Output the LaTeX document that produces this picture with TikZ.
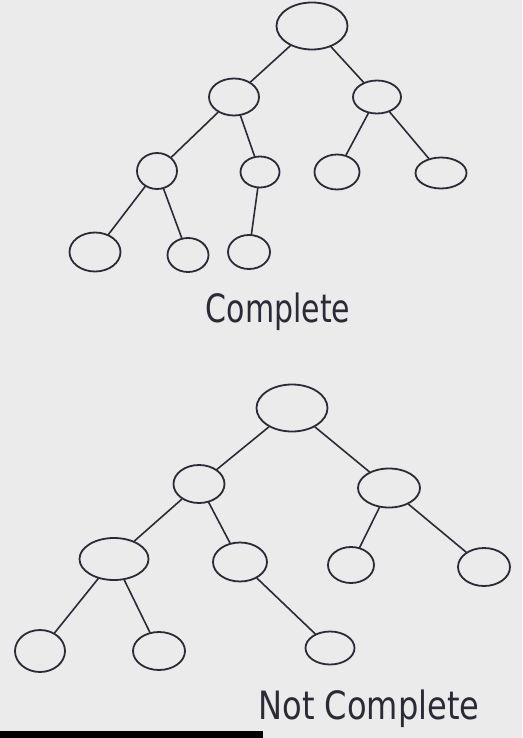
\documentclass[tikz,border=0pt]{standalone}
\usepackage{fontspec}
\setmainfont{DejaVu Sans}
\usetikzlibrary{shapes.geometric}
\definecolor{board}{HTML}{EBEBEB}
\definecolor{pen}{HTML}{2B2B38}

\begin{document}
\begin{tikzpicture}[x=1pt, y=-1pt,
            ring/.style = {draw=pen, ellipse, line width=1.8pt, inner sep=0pt},
            edge/.style = {draw=pen, line width=1.6pt, line cap=round},
            caption/.style = {text=pen, font=\fontsize{30}{36}\selectfont, yscale=1.3}]
            \fill[board] (0,0) rectangle (522,738);
            \useasboundingbox (0,0) rectangle (522,738);

            % complete tree
            \node[ring, minimum width=71pt, minimum height=47pt] (r) at (312,26) {};
            \node[ring, minimum width=50pt, minimum height=37pt] (a) at (234,97) {};
            \node[ring, minimum width=48pt, minimum height=33pt] (b) at (377,97) {};
            \node[ring, minimum width=40pt, minimum height=36pt] (aa) at (157,171) {};
            \node[ring, minimum width=39pt, minimum height=31pt] (ab) at (260,172) {};
            \node[ring, minimum width=45pt, minimum height=35pt] (ba) at (337,172) {};
            \node[ring, minimum width=51pt, minimum height=31pt] (bb) at (441,173) {};
            \node[ring, minimum width=51pt, minimum height=39pt] (aaa) at (95,252) {};
            \node[ring, minimum width=41pt, minimum height=34pt] (aab) at (188,255) {};
            \node[ring, minimum width=42pt, minimum height=34pt] (aba) at (249,252) {};

            \draw[edge] (r) -- (a);
            \draw[edge] (r) -- (b);
            \draw[edge] (a) -- (aa);
            \draw[edge] (a) -- (ab);
            \draw[edge] (b) -- (ba);
            \draw[edge] (b) -- (bb);
            \draw[edge] (aa) -- (aaa);
            \draw[edge] (aa) -- (aab);
            \draw[edge] (ab) -- (aba);

            \node[caption] (yes) at (278,312) {Complete};

            % not complete tree
            \node[ring, minimum width=71pt, minimum height=47pt] (nr) at (292,408) {};
            \node[ring, minimum width=51pt, minimum height=38pt] (na) at (199,484) {};
            \node[ring, minimum width=62pt, minimum height=39pt] (nb) at (389,488) {};
            \node[ring, minimum width=69pt, minimum height=42pt] (naa) at (114,559) {};
            \node[ring, minimum width=54pt, minimum height=39pt] (nab) at (240,562) {};
            \node[ring, minimum width=46pt, minimum height=36pt] (nba) at (351,565) {};
            \node[ring, minimum width=52pt, minimum height=38pt] (nbb) at (484,567) {};
            \node[ring, minimum width=50pt, minimum height=42pt] (naaa) at (40,651) {};
            \node[ring, minimum width=52pt, minimum height=38pt] (naab) at (159,651) {};
            \node[ring, minimum width=49pt, minimum height=33pt] (nabb) at (330,648) {};

            \draw[edge] (nr) -- (na);
            \draw[edge] (nr) -- (nb);
            \draw[edge] (na) -- (naa);
            \draw[edge] (na) -- (nab);
            \draw[edge] (nb) -- (nba);
            \draw[edge] (nb) -- (nbb);
            \draw[edge] (naa) -- (naaa);
            \draw[edge] (naa) -- (naab);
            \draw[edge] (nab) -- (nabb);

            \node[caption, xscale=1.07] (no) at (369,709) {Not Complete};

            \fill[black] (0,731) rectangle (263,738);
\end{tikzpicture}
\end{document}
